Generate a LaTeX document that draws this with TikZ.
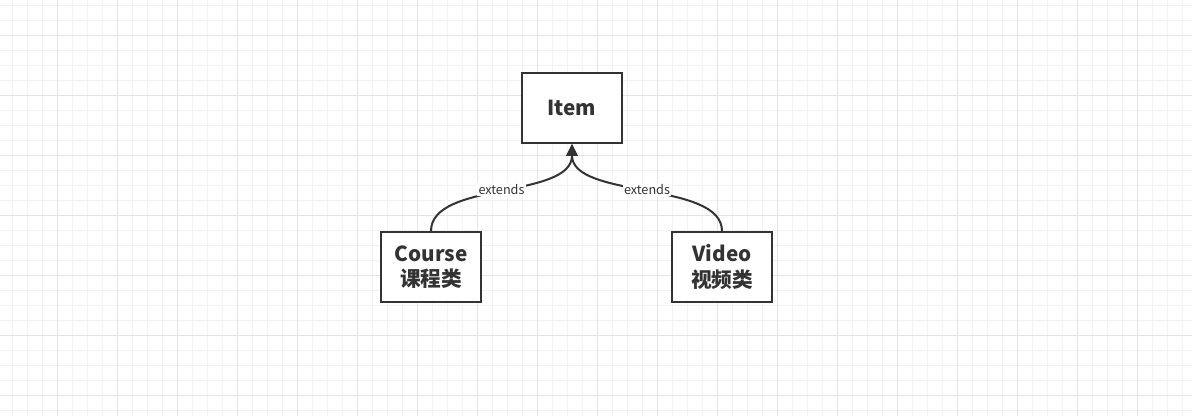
\documentclass[tikz,border=0pt]{standalone}
\usepackage{fontspec}
\setmainfont{Noto Sans CJK SC}
\usetikzlibrary{arrows.meta}
\definecolor{ink}{HTML}{333333}
\definecolor{gminor}{HTML}{F2F2F2}
\definecolor{gmajor}{HTML}{E4E4E4}
\tikzset{
  cls/.style={draw=ink, line width=1.5pt, fill=white, minimum width=75pt, minimum height=52.5pt,
    inner sep=0pt, align=center, font=\fontsize{15.5pt}{19pt}\selectfont\bfseries, text=ink},
  inh/.style={draw=ink, line width=1.5pt, -{Triangle[length=9pt,width=8.5pt]}},
  lbl/.style={fill=white, inner sep=1pt, font=\fontsize{9.5pt}{11pt}\selectfont, text=ink}
}
\begin{document}
\begin{tikzpicture}[x=0.75pt,y=-0.75pt]
\useasboundingbox (0,0) rectangle (1192,416);
\fill[white] (0,0) rectangle (1192,416);
% grid
\foreach \x in {12,27,...,1190} \draw[gminor, line width=0.75pt] (\x+0.5,0) -- (\x+0.5,416);
\foreach \y in {5,20,...,415} \draw[gminor, line width=0.75pt] (0,\y+0.5) -- (1192,\y+0.5);
\foreach \x in {57,117,...,1190} \draw[gmajor, line width=0.75pt] (\x+0.5,0) -- (\x+0.5,416);
\foreach \y in {35,95,...,415} \draw[gmajor, line width=0.75pt] (0,\y+0.5) -- (1192,\y+0.5);
% nodes
\node[cls] (item) at (572,108) {Item};
\node[cls] (course) at (431,267) {Course\\课程类};
\node[cls] (video) at (722,267) {Video\\视频类};
% edges
\draw[inh] (course.north) .. controls +(0,-50) and +(0,55) .. node[lbl, pos=0.5] {extends} (item.south);
\draw[inh] (video.north) .. controls +(0,-50) and +(0,55) .. node[lbl, pos=0.5] {extends} (item.south);
\end{tikzpicture}
\end{document}
